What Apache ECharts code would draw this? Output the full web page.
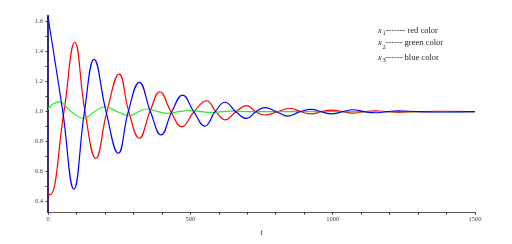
<!DOCTYPE html>
<html>
<head>
<meta charset="utf-8">
<script src="https://cdn.jsdelivr.net/npm/echarts@6/dist/echarts.min.js"></script>
<style>
html,body{margin:0;padding:0;background:#fff;}
#c{width:512px;height:244px;}
</style>
</head>
<body>
<div id="c"></div>
<script>
// ---- data ----
var redT   = [0, 7, 56, 94, 130, 168, 207, 250, 284, 321, 358, 393, 432, 470, 513, 557, 590, 622, 660, 698, 730, 762, 806, 850, 888, 926, 960, 996, 1034, 1071, 1110, 1150, 1190, 1230, 1300, 1380, 1500];
var redV   = [0.458, 0.445, 1.0, 1.463, 1.0, 0.689, 1.0, 1.251, 1.0, 0.823, 1.0, 1.133, 1.0, 0.900, 1.0, 1.073, 1.0, 0.946, 1.0, 1.040, 1.0, 0.978, 1.0, 1.023, 1.0, 0.985, 1.0, 1.011, 1.0, 0.990, 1.0, 1.006, 1.0, 0.996, 1.0, 1.002, 1.0];
var greenT = [0, 37, 82, 126, 163, 200, 244, 288, 318, 347, 385, 421, 460, 500, 540, 575, 610, 650, 700, 800, 1500];
var greenV = [1.018, 1.065, 1.0, 0.956, 1.0, 1.033, 1.0, 0.973, 1.0, 1.018, 1.0, 0.989, 1.0, 1.008, 1.0, 0.995, 1.0, 1.004, 1.0, 1.0, 1.0];
var blueT  = [0, 52, 91, 128, 162, 204, 247, 282, 321, 360, 397, 435, 473, 512, 551, 587, 622, 660, 698, 730, 762, 803, 843, 885, 926, 960, 996, 1034, 1071, 1110, 1150, 1190, 1230, 1300, 1380, 1500];
var blueV  = [1.633, 1.0, 0.483, 1.0, 1.349, 1.0, 0.723, 1.0, 1.196, 1.0, 0.845, 1.0, 1.111, 1.0, 0.904, 1.0, 1.063, 1.0, 0.955, 1.0, 1.027, 1.0, 0.971, 1.0, 1.016, 1.0, 0.985, 1.0, 1.013, 1.0, 0.993, 1.0, 1.006, 1.0, 0.998, 1.0];
var xLabelValues = [0, 500, 1000, 1500];
var yTickValues  = [0.4, 0.5, 0.6, 0.7, 0.8, 0.9, 1.0, 1.1, 1.2, 1.3, 1.4, 1.5, 1.6];
var yLabelValues = [0.4, 0.6, 0.8, 1.0, 1.2, 1.4, 1.6];
var legendSubs   = ['1', '2', '3'];
var legendTexts  = ['------- red color', '------ green color', '------ blue color'];
var axisName = 't';

function pairs(t, v) { return t.map(function (x, i) { return [x, v[i]]; }); }

var chart = echarts.init(document.getElementById('c'), null, {renderer: 'canvas'});
var serif = 'Liberation Serif, Times New Roman, serif';

var graphics = [];
var rowTop = [26, 38.5, 53.5];
for (var i = 0; i < 3; i++) {
  graphics.push({type: 'text', left: 378, top: rowTop[i],
    style: {text: 'x', font: 'italic 8.5px ' + serif, fill: '#222'}});
  graphics.push({type: 'text', left: 382.5, top: rowTop[i] + (i === 1 ? 5.5 : 3.5),
    style: {text: legendSubs[i], font: '6.5px ' + serif, fill: '#222'}});
  graphics.push({type: 'text', left: 385.5, top: rowTop[i],
    style: {text: legendTexts[i], font: '8.5px ' + serif, fill: '#222'}});
}

chart.setOption({
  animation: false,
  backgroundColor: '#fff',
  grid: {left: 48, right: 37, top: 15.7, bottom: 31.8},
  xAxis: {
    type: 'value', min: 0, max: 1500, interval: 100,
    name: axisName, nameLocation: 'middle', nameGap: 13,
    nameTextStyle: {fontFamily: serif, fontStyle: 'italic', fontSize: 9, color: '#333'},
    axisLine: {onZero: false, lineStyle: {color: '#555', width: 1}},
    axisTick: {show: true, length: 2.5, inside: false, lineStyle: {color: '#333'}},
    axisLabel: {
      fontFamily: serif, fontSize: 6.5, color: '#444', margin: 4,
      formatter: function (v) { return xLabelValues.indexOf(v) >= 0 ? String(v) : ''; }
    },
    splitLine: {show: false}
  },
  yAxis: {
    type: 'value', min: 0.33, max: 1.64,
    axisLine: {show: true, onZero: false, lineStyle: {color: '#3a2a70', width: 2}},
    axisTick: {show: true, length: 2.5, customValues: yTickValues, lineStyle: {color: '#333'}},
    axisLabel: {
      fontFamily: serif, fontSize: 6.5, color: '#444', margin: 5,
      customValues: yLabelValues,
      formatter: function (v) { return v.toFixed(1); }
    },
    splitLine: {show: false}
  },
  graphic: graphics,
  series: [
    {type: 'line', data: pairs(redT, redV), smooth: 0.45, showSymbol: false,
     lineStyle: {color: '#ff0000', width: 1.2}},
    {type: 'line', data: pairs(greenT, greenV), smooth: 0.45, showSymbol: false,
     lineStyle: {color: '#22ee22', width: 1.2}},
    {type: 'line', data: pairs(blueT, blueV), smooth: 0.45, showSymbol: false,
     lineStyle: {color: '#0000ff', width: 1.2}}
  ]
});
</script>
</body>
</html>
